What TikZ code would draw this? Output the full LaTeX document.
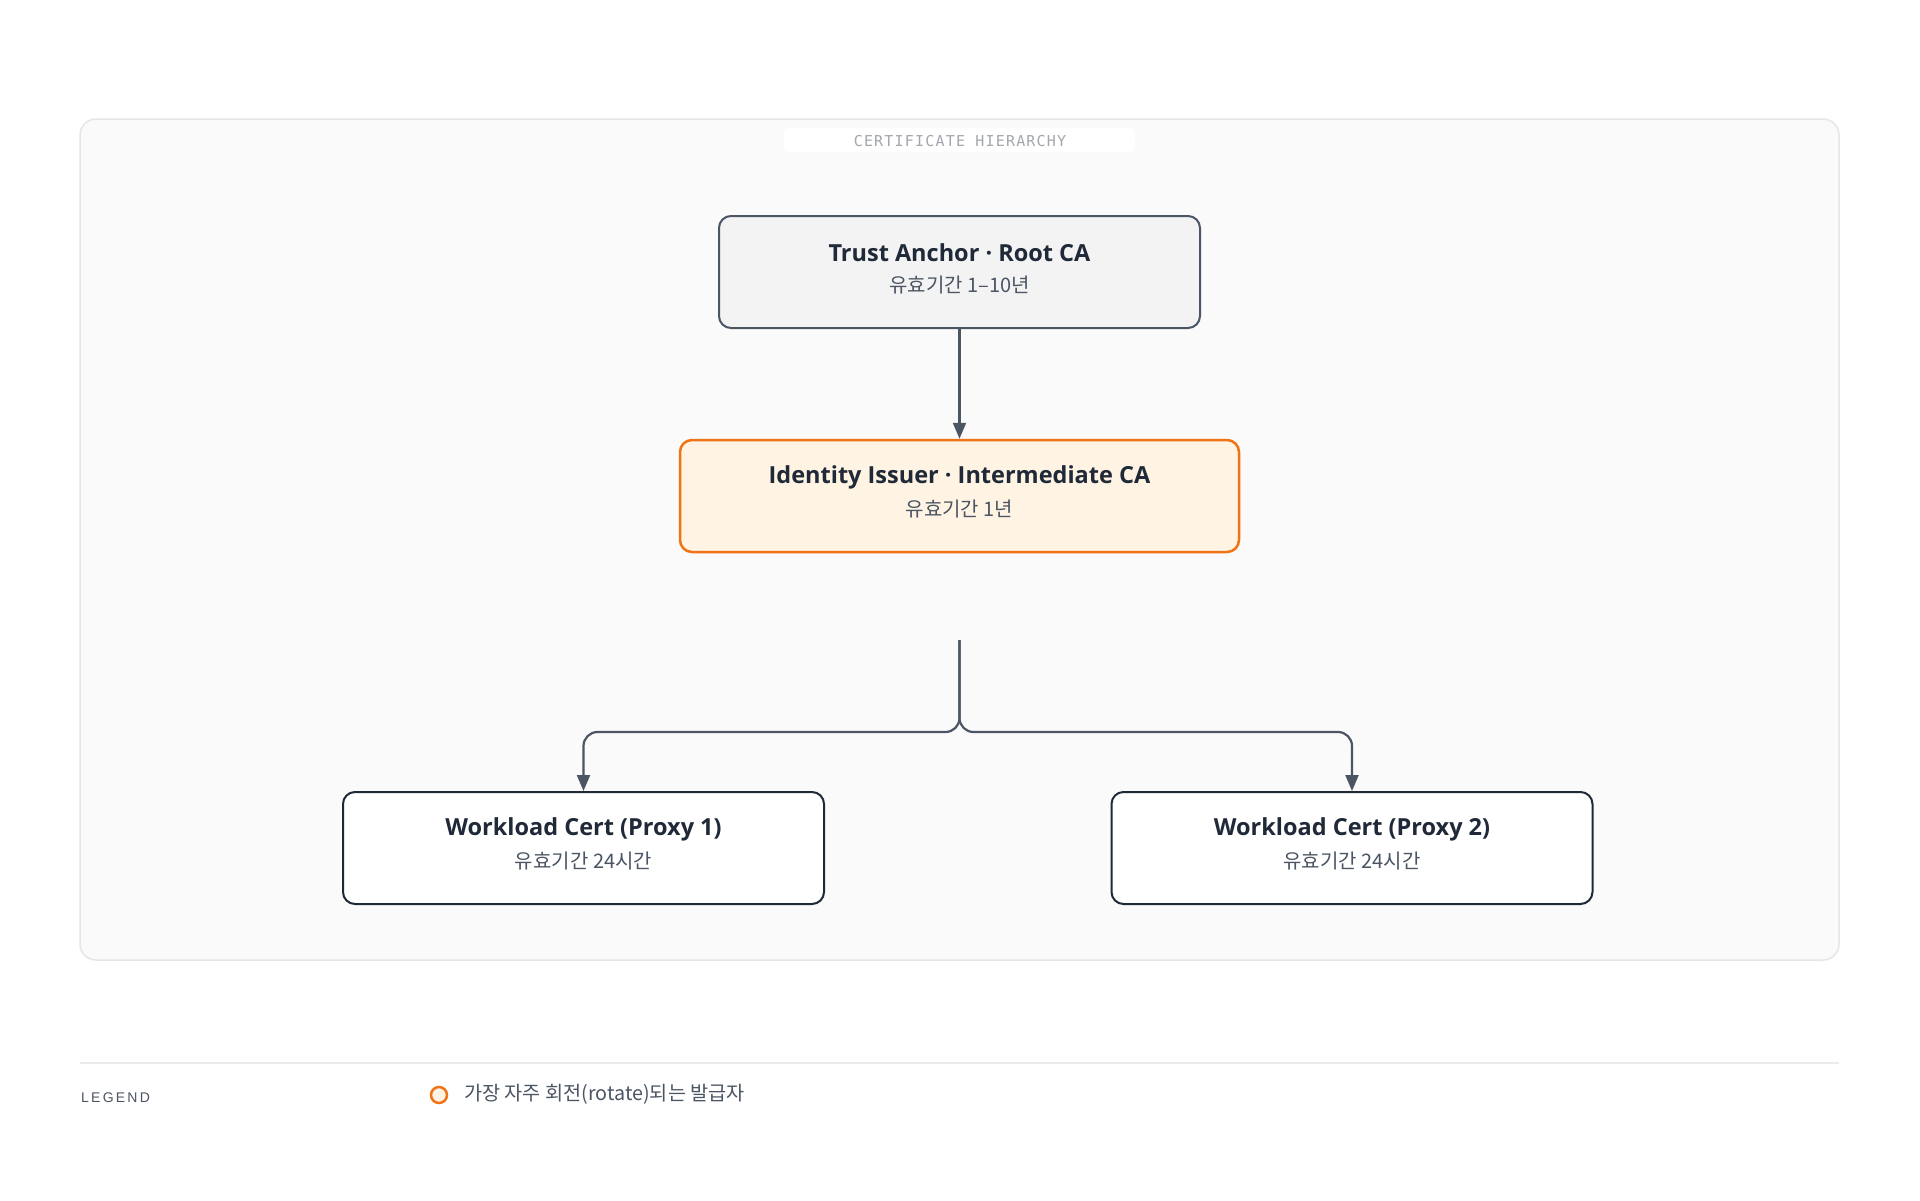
\documentclass[tikz,border=0pt]{standalone}
\usepackage{fontspec}
\setmainfont{Open Sans}
\newfontfamily\kr{Noto Sans CJK KR}
\newfontfamily\monof[LetterSpace=8]{DejaVu Sans Mono}
\newfontfamily\legf[LetterSpace=16]{Liberation Sans}
\usetikzlibrary{arrows.meta}
\definecolor{panelbg}{HTML}{FAFAFA}
\definecolor{panelln}{HTML}{E6E6E6}
\definecolor{lbltxt}{HTML}{A3A7AD}
\definecolor{rootbg}{HTML}{F3F3F4}
\definecolor{rootln}{HTML}{4B5563}
\definecolor{arrc}{HTML}{4B5563}
\definecolor{interbg}{HTML}{FFF4E4}
\definecolor{interln}{HTML}{F07316}
\definecolor{proxln}{HTML}{1F2937}
\definecolor{ttlc}{HTML}{1F2937}
\definecolor{subc}{HTML}{4B5563}
\definecolor{legln}{HTML}{EBEBEB}
\tikzset{
  box/.style={rectangle, rounded corners=12pt, line width=2pt, minimum height=112pt, inner sep=0pt},
  rootbox/.style={box, fill=rootbg, draw=rootln, minimum width=481pt},
  interbox/.style={box, fill=interbg, draw=interln, line width=2.5pt, minimum width=559pt},
  proxbox/.style={box, fill=white, draw=proxln, minimum width=481pt},
  ttl/.style={inner sep=0pt, text=ttlc, font=\fontsize{23.5}{28}\selectfont\bfseries},
  sub/.style={inner sep=0pt, text=subc, font=\fontsize{20}{24}\selectfont\kr},
  arr/.style={draw=arrc, line width=2.2pt, -{Triangle[length=16pt,width=13pt]}},
}
\begin{document}
\begin{tikzpicture}[x=1pt,y=-1pt]
\useasboundingbox (0,0) rectangle (1920,1200);
\fill[white] (0,0) rectangle (1920,1200);
% panel
\draw[fill=panelbg, draw=panelln, line width=1.5pt, rounded corners=16pt] (80,119) rectangle (1839,960);
\fill[white, rounded corners=4pt] (784,128) rectangle (1135,152);
\node[inner sep=0pt, text=lbltxt, font=\fontsize{15}{18}\selectfont\monof] (ptitle) at (960,141) {CERTIFICATE HIERARCHY};
% boxes
\node[rootbox] (root) at (959.5,272) {};
\node[ttl] (rootT) at ([yshift=19pt]root.center) {Trust Anchor · Root CA};
\node[sub] (rootS) at ([yshift=-13pt]root.center) {유효기간 1–10년};
\node[interbox] (inter) at (959.5,496) {};
\node[ttl] (interT) at ([yshift=19pt]inter.center) {Identity Issuer · Intermediate CA};
\node[sub] (interS) at ([yshift=-13pt]inter.center) {유효기간 1년};
\node[proxbox] (p1) at (583.5,848) {};
\node[ttl] (p1T) at ([yshift=18.5pt]p1.center) {Workload Cert (Proxy 1)};
\node[sub] (p1S) at ([yshift=-13pt]p1.center) {유효기간 24시간};
\node[proxbox] (p2) at (1352,848) {};
\node[ttl] (p2T) at ([yshift=18.5pt]p2.center) {Workload Cert (Proxy 2)};
\node[sub] (p2S) at ([yshift=-13pt]p2.center) {유효기간 24시간};
% connectors
\draw[arr] (root.south) -- (inter.north);
\coordinate (br) at (959.5,640);
\coordinate (jn) at (959.5,732);
\draw[arr, rounded corners=14pt] (br) -- (jn) -| (p1.north);
\draw[arr, rounded corners=14pt] (br) -- (jn) -| (p2.north);
% legend
\draw[legln, line width=2pt] (80,1063) -- (1839,1063);
\node[anchor=west, inner sep=0pt, text=subc, font=\fontsize{14}{17}\selectfont\legf] (legT) at (81,1098) {LEGEND};
\node[circle, draw=interln, fill=interbg, line width=2.5pt, minimum size=16pt, inner sep=0pt] (legC) at (439,1095) {};
\node[anchor=west, inner sep=0pt, text=subc, font=\fontsize{19.7}{23}\selectfont\kr] (legX) at (464,1094) {가장 자주 회전(rotate)되는 발급자};
\end{tikzpicture}
\end{document}
